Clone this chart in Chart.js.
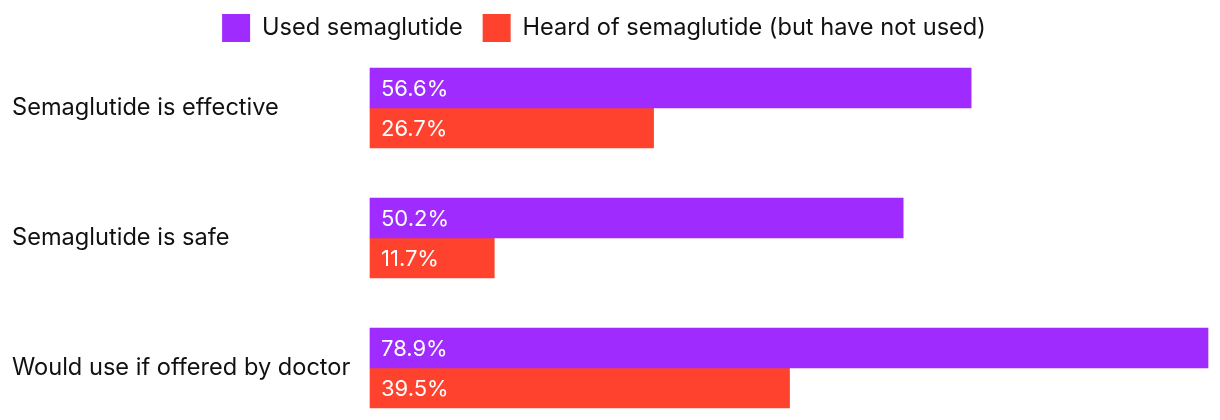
<!DOCTYPE html>
<html>
<head>
<meta charset="utf-8">
<script src="https://cdn.jsdelivr.net/npm/chart.js@4.4.1/dist/chart.umd.min.js"></script>
<style>
  html, body { margin: 0; padding: 0; background: #fff; }
  #wrap { width: 1220px; height: 420px; }
</style>
</head>
<body>
<div id="wrap"><canvas id="chart"></canvas></div>
<script>
const categories = [
  "Semaglutide is effective",
  "Semaglutide is safe",
  "Would use if offered by doctor"
];
const usedValues = [56.6, 50.2, 78.9];
const heardValues = [26.7, 11.7, 39.5];
const seriesNames = ["Used semaglutide", "Heard of semaglutide (but have not used)"];

const PURPLE = "#9f2bff";
const ORANGE = "#ff422e";
const FONT = "Inter, 'Noto Sans', sans-serif";

// white value labels drawn just inside the start of each bar
const barValueLabels = {
  id: "barValueLabels",
  afterDatasetsDraw(chart) {
    const ctx = chart.ctx;
    ctx.save();
    ctx.fillStyle = "#ffffff";
    ctx.font = "22px " + FONT;
    ctx.textAlign = "left";
    ctx.textBaseline = "middle";
    chart.data.datasets.forEach((ds, i) => {
      chart.getDatasetMeta(i).data.forEach((bar, j) => {
        ctx.fillText(ds.data[j].toFixed(1) + "%", bar.base + 11, bar.y + 1);
      });
    });
    ctx.restore();
  }
};

// legend sits a little left of centre and tight to the top in the original
const legendNudge = {
  id: "legendNudge",
  afterLayout(chart) {
    const l = chart.legend;
    l.left -= 6; l.right -= 6;
    l.top -= 10; l.bottom -= 10;
  }
};

new Chart(document.getElementById("chart"), {
  type: "bar",
  data: {
    labels: categories,
    datasets: [
      {
        label: seriesNames[0],
        data: usedValues,
        backgroundColor: PURPLE,
        barThickness: 40,
        clip: false
      },
      {
        label: seriesNames[1],
        data: heardValues,
        backgroundColor: ORANGE,
        barThickness: 40,
        clip: false
      }
    ]
  },
  options: {
    indexAxis: "y",
    responsive: true,
    maintainAspectRatio: false,
    animation: false,
    layout: {
      padding: { left: 12, right: 12, top: 4, bottom: 52 }
    },
    plugins: {
      legend: {
        position: "top",
        labels: {
          boxWidth: 28,
          boxHeight: 28,
          padding: 20,
          color: "#111111",
          font: { family: FONT, size: 23.6 }
        }
      },
      tooltip: { enabled: false }
    },
    scales: {
      x: {
        position: "top",
        min: 0,
        max: 78.9,
        ticks: { display: false },
        grid: { display: false },
        border: { display: false },
        afterFit(scale) { scale.height = 104 - scale.chart.legend.height; }
      },
      y: {
        offset: false,
        ticks: {
          crossAlign: "far",
          color: "#111111",
          font: { family: FONT, size: 23.6 }
        },
        grid: { display: false },
        border: { display: false },
        afterFit(scale) { scale.width = 358; }
      }
    }
  },
  plugins: [barValueLabels, legendNudge]
});
</script>
</body>
</html>
